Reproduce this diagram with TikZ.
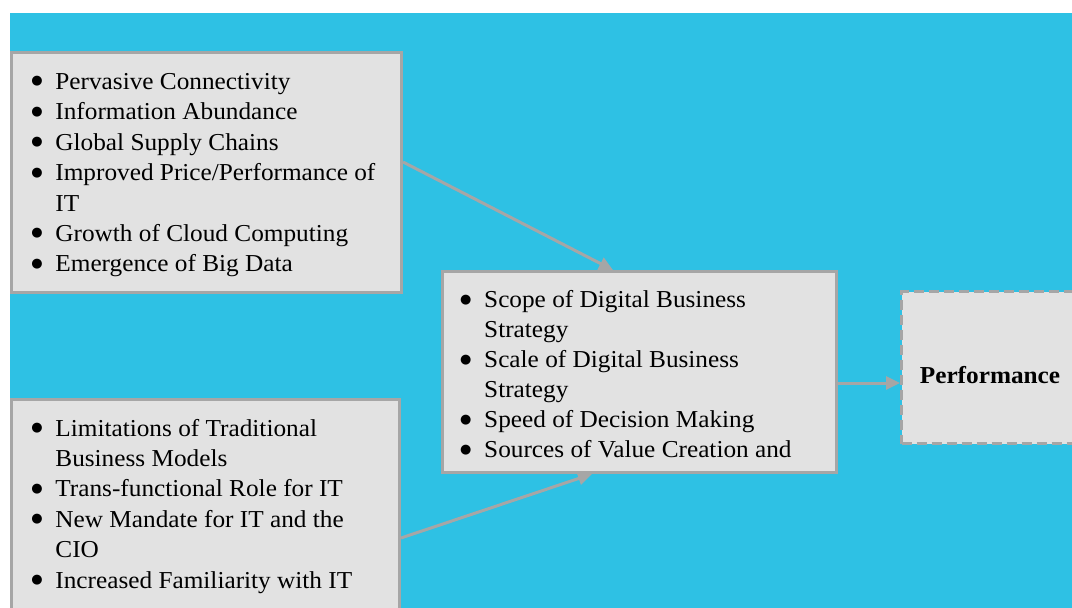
\documentclass[tikz,border=0pt]{standalone}
\usepackage{fontspec}
\setmainfont{Liberation Serif}[FakeStretch=1.04]
\newfontfamily\bulletfont{DejaVu Sans}
\usetikzlibrary{arrows.meta,calc}
\definecolor{bgblue}{HTML}{2EC1E4}
\definecolor{boxgray}{HTML}{E2E2E2}
\definecolor{edgegray}{HTML}{A6A6A6}
\newcommand{\bitem}{\makebox[24pt][l]{\raisebox{4.6pt}{\bulletfont\fontsize{13}{13}\selectfont ●}}}
\newcommand{\bcont}{\hspace*{24pt}}
\begin{document}
\begin{tikzpicture}[x=1pt,y=-1pt,
  panel/.style={draw=edgegray, fill=boxgray, line width=3pt, inner sep=0pt, anchor=north west},
  dashpanel/.style={panel, dash pattern=on 10pt off 5pt},
  listtext/.style={inner sep=0pt, anchor=base west, font=\fontsize{24.3}{30.4}\selectfont},
  listtextb/.style={listtext, font=\fontsize{24.3}{30}\selectfont},
  link/.style={draw=edgegray, line width=3pt, -{Triangle[length=14pt,width=13pt]}}]
\useasboundingbox (0,0) rectangle (1072,608);
\fill[bgblue] (10,13) rectangle (1072,608);
% boxes
\node[panel, minimum width=390pt, minimum height=240pt] (b1) at (10,51) {};
\node[panel, minimum width=394pt, minimum height=201pt] (c) at (441,270) {};
\node[panel, minimum width=388pt, minimum height=230pt] (b3) at (10,398) {};
\node[dashpanel, minimum width=190pt, minimum height=152pt] (p) at (900,290) {};
% texts
\node[listtext] (t1) at ($(b1.north west)+(21.2,38.5)$) {\begin{tabular}[t]{@{}l@{}}
\bitem Pervasive Connectivity\\
\bitem Information Abundance\\
\bitem Global Supply Chains\\
\bitem Improved Price/Performance of\\
\bcont IT\\
\bitem Growth of Cloud Computing\\
\bitem Emergence of Big Data
\end{tabular}};
\node[listtextb] (t2) at ($(c.north west)+(19,37.7)$) {\begin{tabular}[t]{@{}l@{}}
\bitem Scope of Digital Business\\
\bcont Strategy\\
\bitem Scale of Digital Business\\
\bcont Strategy\\
\bitem Speed of Decision Making\\
\bitem Sources of Value Creation and
\end{tabular}};
\node[listtext] (t3) at ($(b3.north west)+(21.2,38)$) {\begin{tabular}[t]{@{}l@{}}
\bitem Limitations of Traditional\\
\bcont Business Models\\
\bitem Trans-functional Role for IT\\
\bitem New Mandate for IT and the\\
\bcont CIO\\
\bitem Increased Familiarity with IT
\end{tabular}};
\node[inner sep=0pt, anchor=base, font=\fontsize{24.3}{29}\selectfont\bfseries] (pt) at ($(p.north west)+(90,93)$) {Performance};
% connectors
\coordinate (a1s) at ($(b1.north east)+(0,111)$);
\coordinate (a1e) at ($(c.north west)+(172,0)$);
\coordinate (a2s) at ($(b3.north east)+(0,140)$);
\coordinate (a2e) at ($(c.south west)+(151,0)$);
\coordinate (a3s) at ($(c.north east)+(0,113)$);
\draw[link] (a1s) -- (a1e);
\draw[link] (a2s) -- (a2e);
\draw[link] (a3s) -- (p.west |- a3s);
\end{tikzpicture}
\end{document}
